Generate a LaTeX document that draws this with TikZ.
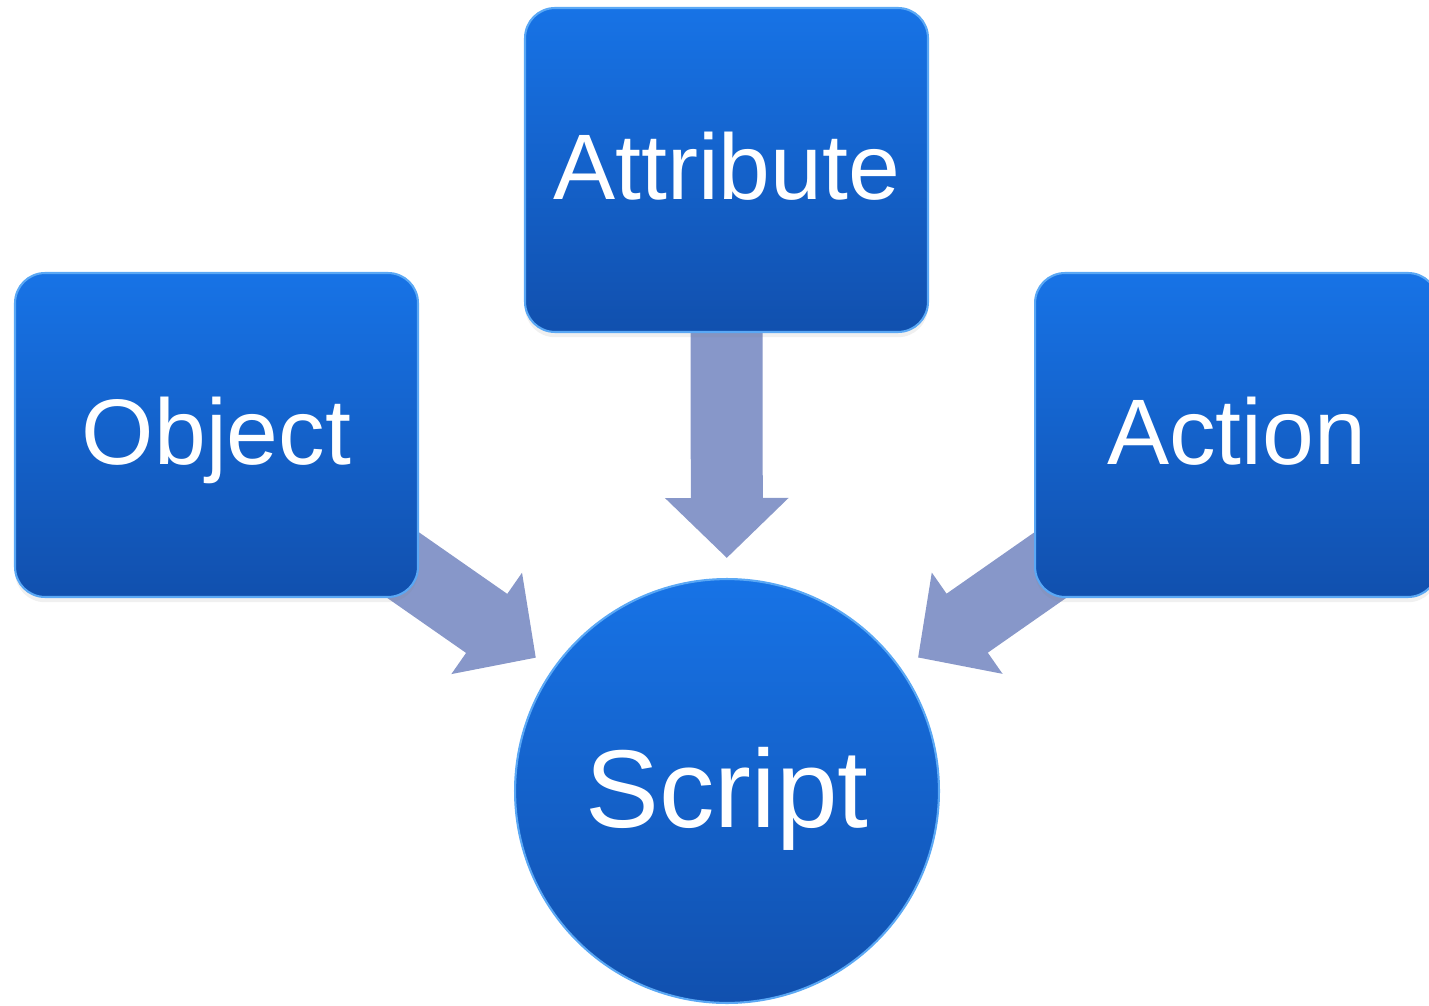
\documentclass[tikz,border=0pt]{standalone}
\usepackage{fontspec}
\setmainfont{Liberation Sans}
\usetikzlibrary{arrows.meta,backgrounds,shadows}
\definecolor{boxtop}{HTML}{1773E6}
\definecolor{boxbot}{HTML}{1150AE}
\definecolor{boxrim}{HTML}{5AA8F5}
\definecolor{flowcol}{HTML}{8797C9}

\begin{document}
\begin{tikzpicture}[x=0.02cm,y=-0.02cm,
	box/.style={rectangle,rounded corners=0.6cm,minimum width=8.06cm,minimum height=6.48cm,inner sep=0pt,
		top color=boxtop,bottom color=boxbot,draw=boxrim,line width=1.2pt,text=white,
		font=\fontsize{53}{60}\selectfont,text height=1.35cm,text depth=0.16cm,
		drop shadow={opacity=0.12,shadow xshift=0pt,shadow yshift=-3pt}},
	hub/.style={circle,minimum size=8.48cm,inner sep=0pt,
		top color=boxtop,bottom color=boxbot,draw=boxrim,line width=1.2pt,text=white,
		font=\fontsize{63}{70}\selectfont,text height=1.62cm,text depth=0.14cm},
	flow/.style={draw=flowcol,line width=1.44cm,-{Triangle[width=2.4cm,length=1.2cm]},shorten >=0.4cm}]
	\useasboundingbox (0,0) rectangle (1429,1006);
	\clip (0,0) rectangle (1429,1006);
	\node[box] (att) at (726.5,170) {Attribute};
	\node[box] (obj) at (216.5,435) {Object};
	\node[box] (act) at (1236.5,435) {Action};
	\node[hub] (scr) at (727,791) {Script};
	\begin{scope}[on background layer]
		\draw[flow] (att.center) -- (scr);
		\draw[flow] (obj.center) -- (scr);
		\draw[flow] (act.center) -- (scr);
	\end{scope}
\end{tikzpicture}
\end{document}
